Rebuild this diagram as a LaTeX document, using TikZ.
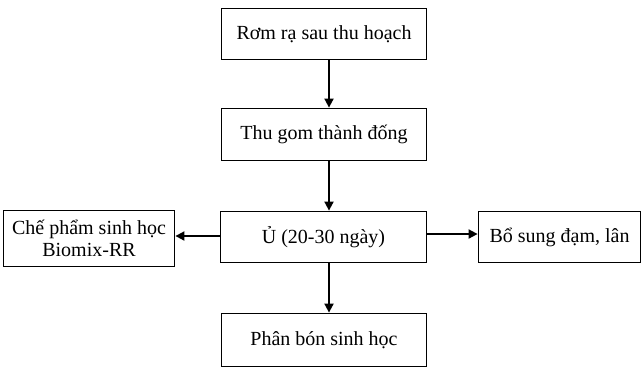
\documentclass[tikz,border=0pt]{standalone}
\usepackage{fontspec}
\setmainfont{Liberation Serif}
\usetikzlibrary{arrows.meta}
\begin{document}
\begin{tikzpicture}[x=1pt,y=-1pt,
  stepbox/.style={draw,line width=1.8pt,inner sep=0pt,align=center,font=\fontsize{20}{22}\selectfont},
  conn/.style={line width=1.8pt,-{Triangle[length=9pt,width=9pt]}}]
\useasboundingbox (0,0) rectangle (642,368);
\node[stepbox,minimum width=205pt,minimum height=51pt] (a) at (324,34) {Rơm rạ sau thu hoạch};
\node[stepbox,minimum width=205pt,minimum height=52pt] (b) at (324,134.5) {Thu gom thành đống};
\node[stepbox,minimum width=206pt,minimum height=51pt] (c) at (323.5,237) {Ủ (20-30 ngày)};
\node[stepbox,minimum width=171pt,minimum height=56pt] (l) at (89,238.5) {Chế phẩm sinh học\\Biomix-RR};
\node[stepbox,minimum width=162pt,minimum height=51pt] (r) at (559.5,237) {Bổ sung đạm, lân};
\node[stepbox,minimum width=205pt,minimum height=53pt] (d) at (324,340) {Phân bón sinh học};
\coordinate (cw) at ([yshift=1pt]c.west);
\coordinate (ce) at ([yshift=3pt]c.east);
\draw[conn] ([xshift=5pt]a.south) -- ([xshift=5pt]b.north);
\draw[conn] ([xshift=5pt]b.south) -- ([xshift=5.5pt]c.north);
\draw[conn] ([xshift=5.5pt]c.south) -- ([xshift=5pt]d.north);
\draw[conn] (cw) -- (cw -| l.east);
\draw[conn] (ce) -- (ce -| r.west);
\end{tikzpicture}
\end{document}
